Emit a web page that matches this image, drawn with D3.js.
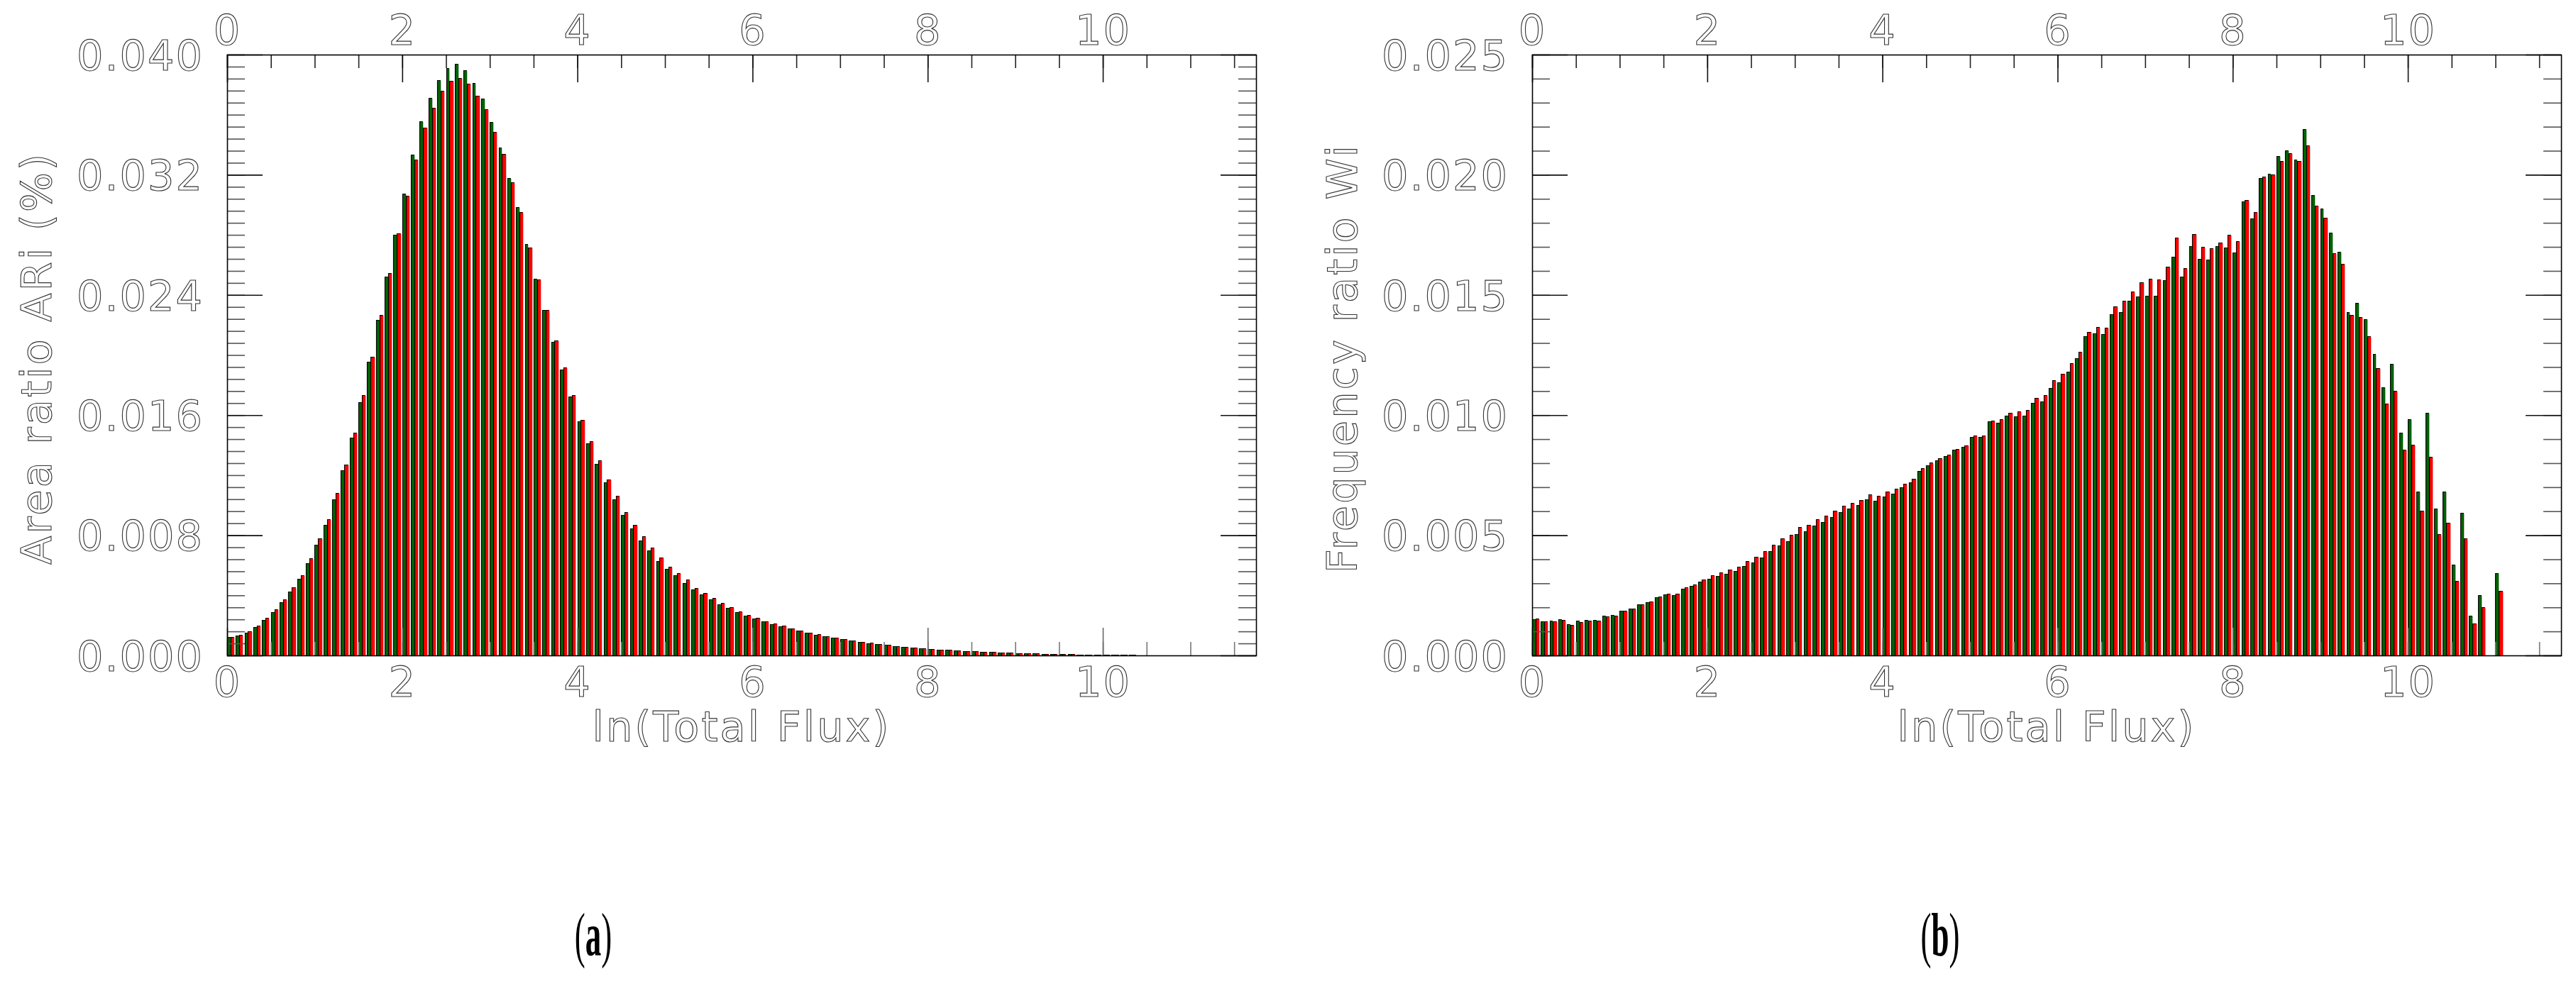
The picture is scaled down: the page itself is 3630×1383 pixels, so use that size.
<!DOCTYPE html>
<html>
<head>
<meta charset="utf-8">
<script src="https://cdn.jsdelivr.net/npm/d3@7"></script>
<style>
  html, body { margin: 0; padding: 0; background: #fff; }
  svg { display: block; }
</style>
</head>
<body>
<div id="vis"></div>
<script>

/* Data */
/* ---- */

var binWidth = 0.1; // ln(Total Flux) bin, bins start at 0

// (a) area ratio ARi, one value per bin
var areaGreen = [
  0.00124, 0.00130, 0.00153, 0.00189, 0.00236, 0.00288, 0.00355, 0.00427, 0.00510, 0.00613,
  0.00735, 0.00870, 0.01039, 0.01231, 0.01451, 0.01687, 0.01956, 0.02236, 0.02523, 0.02801,
  0.03075, 0.03334, 0.03557, 0.03712, 0.03832, 0.03912, 0.03938, 0.03896, 0.03811, 0.03707,
  0.03549, 0.03381, 0.03179, 0.02984, 0.02741, 0.02508, 0.02301, 0.02088, 0.01904, 0.01723,
  0.01560, 0.01412, 0.01277, 0.01153, 0.01039, 0.00935, 0.00845, 0.00766, 0.00699, 0.00630,
  0.00575, 0.00533, 0.00483, 0.00437, 0.00407, 0.00374, 0.00341, 0.00315, 0.00288, 0.00265,
  0.00245, 0.00226, 0.00208, 0.00193, 0.00178, 0.00164, 0.00150, 0.00138, 0.00127, 0.00117,
  0.00107, 0.00098, 0.00090, 0.00082, 0.00075, 0.00069, 0.00063, 0.00057, 0.00052, 0.00048,
  0.00043, 0.00040, 0.00036, 0.00033, 0.00030, 0.00027, 0.00024, 0.00022, 0.00020, 0.00018,
  0.00016, 0.00014, 0.00013, 0.00011, 0.00010, 0.00009, 0.00008, 0.00007, 0.00006, 0.00005,
  0.00005, 0.00004, 0.00003, 0.00003, 0.00002, 0.00002
];
var areaRed = [
  0.00124, 0.00135, 0.00159, 0.00198, 0.00252, 0.00308, 0.00371, 0.00452, 0.00535, 0.00645,
  0.00777, 0.00907, 0.01080, 0.01269, 0.01484, 0.01733, 0.01990, 0.02267, 0.02547, 0.02811,
  0.03060, 0.03303, 0.03513, 0.03648, 0.03759, 0.03824, 0.03845, 0.03808, 0.03728, 0.03635,
  0.03487, 0.03337, 0.03148, 0.02951, 0.02715, 0.02503, 0.02298, 0.02096, 0.01917, 0.01733,
  0.01570, 0.01427, 0.01298, 0.01171, 0.01062, 0.00953, 0.00868, 0.00792, 0.00720, 0.00653,
  0.00588, 0.00549, 0.00503, 0.00447, 0.00414, 0.00381, 0.00348, 0.00319, 0.00291, 0.00268,
  0.00248, 0.00229, 0.00212, 0.00196, 0.00181, 0.00166, 0.00153, 0.00141, 0.00129, 0.00118,
  0.00108, 0.00099, 0.00091, 0.00083, 0.00076, 0.00070, 0.00063, 0.00058, 0.00053, 0.00048,
  0.00044, 0.00040, 0.00036, 0.00033, 0.00030, 0.00027, 0.00025, 0.00022, 0.00020, 0.00018,
  0.00016, 0.00014, 0.00013, 0.00011, 0.00010, 0.00009, 0.00008, 0.00007, 0.00006, 0.00005,
  0.00005, 0.00004, 0.00003, 0.00003, 0.00002, 0.00002
];

// (b) frequency ratio Wi, one value per bin
var freqGreen = [
  0.00150, 0.00143, 0.00144, 0.00152, 0.00129, 0.00144, 0.00147, 0.00147, 0.00166, 0.00167,
  0.00185, 0.00194, 0.00212, 0.00222, 0.00242, 0.00253, 0.00251, 0.00277, 0.00289, 0.00306,
  0.00320, 0.00330, 0.00340, 0.00351, 0.00372, 0.00386, 0.00407, 0.00433, 0.00457, 0.00475,
  0.00504, 0.00516, 0.00540, 0.00556, 0.00575, 0.00597, 0.00612, 0.00626, 0.00650, 0.00644,
  0.00662, 0.00674, 0.00700, 0.00719, 0.00767, 0.00792, 0.00811, 0.00828, 0.00855, 0.00867,
  0.00908, 0.00910, 0.00975, 0.00969, 0.00998, 0.00996, 0.00999, 0.01051, 0.01057, 0.01112,
  0.01136, 0.01180, 0.01238, 0.01327, 0.01341, 0.01338, 0.01421, 0.01428, 0.01475, 0.01493,
  0.01497, 0.01496, 0.01561, 0.01658, 0.01575, 0.01703, 0.01650, 0.01647, 0.01703, 0.01697,
  0.01677, 0.01889, 0.01817, 0.01985, 0.02005, 0.02079, 0.02102, 0.02064, 0.02189, 0.01915,
  0.01860, 0.01759, 0.01679, 0.01430, 0.01467, 0.01399, 0.01253, 0.01116, 0.01214, 0.00926,
  0.00984, 0.00682, 0.01008, 0.00610, 0.00683, 0.00378, 0.00594, 0.00166, 0.00250, 0.00000,
  0.00343
];
var freqRed = [
  0.00153, 0.00141, 0.00141, 0.00148, 0.00126, 0.00140, 0.00145, 0.00144, 0.00162, 0.00165,
  0.00185, 0.00194, 0.00212, 0.00224, 0.00246, 0.00258, 0.00256, 0.00283, 0.00296, 0.00316,
  0.00333, 0.00344, 0.00356, 0.00370, 0.00394, 0.00411, 0.00433, 0.00460, 0.00486, 0.00502,
  0.00533, 0.00543, 0.00567, 0.00582, 0.00602, 0.00624, 0.00635, 0.00645, 0.00669, 0.00663,
  0.00681, 0.00694, 0.00715, 0.00735, 0.00780, 0.00803, 0.00822, 0.00834, 0.00859, 0.00874,
  0.00915, 0.00916, 0.00978, 0.00982, 0.01010, 0.01014, 0.01022, 0.01070, 0.01083, 0.01144,
  0.01171, 0.01215, 0.01264, 0.01346, 0.01367, 0.01364, 0.01452, 0.01475, 0.01514, 0.01554,
  0.01566, 0.01565, 0.01618, 0.01738, 0.01611, 0.01752, 0.01699, 0.01693, 0.01719, 0.01750,
  0.01723, 0.01894, 0.01844, 0.01991, 0.02001, 0.02057, 0.02090, 0.02056, 0.02123, 0.01870,
  0.01820, 0.01673, 0.01630, 0.01418, 0.01408, 0.01327, 0.01196, 0.01049, 0.01101, 0.00857,
  0.00876, 0.00603, 0.00825, 0.00506, 0.00553, 0.00311, 0.00486, 0.00132, 0.00202, 0.00000,
  0.00268
];

var xDomain = [0, 11.75];
var xTickValues = [0, 2, 4, 6, 8, 10];
var areaTickValues = [0.000, 0.008, 0.016, 0.024, 0.032, 0.040];
var freqTickValues = [0.000, 0.005, 0.010, 0.015, 0.020, 0.025];


/* Globals */
/* ------- */

var vis = {};
vis.dims = { width: 3630, height: 1383 };
vis.colour = { green: '#006400', red: '#ff0000', outline: '#000' };
vis.font = { family: "'DejaVu Sans', sans-serif", size: 59 };

vis.panels = [
  { id: 'a', left: 320, right: 1770, top: 77, bottom: 924,
    yMax: 0.040, yMinor: 0.0008, ticks: areaTickValues,
    green: areaGreen, red: areaRed,
    title: 'Area ratio ARi (%)', titleX: 72, tag: '(a)', tagX: 836 },
  { id: 'b', left: 2159, right: 3609, top: 77, bottom: 924,
    yMax: 0.025, yMinor: 0.001, ticks: freqTickValues,
    green: freqGreen, red: freqRed,
    title: 'Frequency ratio Wi', titleX: 1912, tag: '(b)', tagX: 2734 }
];


/* Helpers */
/* ------- */

function outlineText(sel, spacing) {

  sel.attr('font-family', vis.font.family)
    .attr('font-size', vis.font.size)
    .attr('fill', '#fff')
    .attr('stroke', '#333')
    .attr('stroke-width', 1.1)
    .attr('letter-spacing', spacing || 2);

} // outlineText()

function styleTicks(g, colour) {

  g.select('.domain').remove();
  g.selectAll('.tick line').attr('stroke', colour).attr('stroke-width', 1.6);

} // styleTicks()


/* General */
/* ------- */

function setupVisual() {

  vis.svg = d3.select('#vis')
    .append('svg')
      .attr('width', vis.dims.width)
      .attr('height', vis.dims.height)
      .attr('viewBox', '0 0 ' + vis.dims.width + ' ' + vis.dims.height);

  vis.svg.append('rect')
    .attr('width', vis.dims.width)
    .attr('height', vis.dims.height)
    .attr('fill', '#fff');

} // setupVisual()

function drawBars(g, p, x, y) {

  var bins = p.green.map(function(v, i) { return { start: i * binWidth, green: v, red: p.red[i] }; });

  // each bin: green bar, then red bar, then a small gap
  var parts = [];
  bins.forEach(function(b) {
    var x0 = Math.round(x(b.start)),
        x1 = Math.round(x(b.start + binWidth * 0.39)),
        x2 = Math.round(x(b.start + binWidth * 0.82));
    if (b.green > 0) parts.push({ x0: x0, x1: x1, v: b.green, fill: vis.colour.green });
    if (b.red > 0) parts.push({ x0: x1, x1: x2, v: b.red, fill: vis.colour.red });
  });

  var bars = g.append('g').attr('class', 'bars')
    .selectAll('g')
    .data(parts)
    .enter().append('g');

  bars.append('rect')
    .attr('x', function(d) { return d.x0; })
    .attr('y', function(d) { return Math.round(y(d.v)); })
    .attr('width', function(d) { return d.x1 - d.x0; })
    .attr('height', function(d) { return p.bottom - Math.round(y(d.v)); })
    .attr('fill', function(d) { return d.fill; });

  // black edge on the left and top of every bar
  bars.append('path')
    .attr('d', function(d) {
      var top = Math.round(y(d.v)) + 0.5;
      return 'M' + (d.x0 + 0.5) + ',' + p.bottom + 'V' + top + 'H' + (d.x1 - 0.5);
    })
    .attr('fill', 'none')
    .attr('stroke', vis.colour.outline)
    .attr('stroke-width', 1.2);

  // faint grey shadow on the right edge
  bars.append('line')
    .attr('x1', function(d) { return d.x1 + 0.5; })
    .attr('x2', function(d) { return d.x1 + 0.5; })
    .attr('y1', function(d) { return Math.round(y(d.v)) + 1; })
    .attr('y2', p.bottom)
    .attr('stroke', '#bbb')
    .attr('stroke-width', 0.8);

} // drawBars()

function drawAxes(g, p, x, y) {

  var xMinor = d3.range(0, xDomain[1], 0.5);
  var yMinor = d3.range(0, p.yMax + p.yMinor / 2, p.yMinor);

  // bottom
  g.append('g').attr('transform', 'translate(0,' + p.bottom + ')')
    .call(d3.axisBottom(x).tickValues(xMinor).tickSize(-19).tickSizeOuter(0).tickFormat(''))
    .call(styleTicks, '#777');
  var bottom = g.append('g').attr('transform', 'translate(0,' + p.bottom + ')')
    .call(d3.axisBottom(x).tickValues(xTickValues).tickSize(-39).tickSizeOuter(0).tickPadding(16).tickFormat(d3.format('d')))
    .call(styleTicks, '#666');
  bottom.selectAll('text').call(outlineText);

  // top
  g.append('g').attr('transform', 'translate(0,' + p.top + ')')
    .call(d3.axisTop(x).tickValues(xMinor).tickSize(-19).tickSizeOuter(0).tickFormat(''))
    .call(styleTicks, '#222');
  var top = g.append('g').attr('transform', 'translate(0,' + p.top + ')')
    .call(d3.axisTop(x).tickValues(xTickValues).tickSize(-39).tickSizeOuter(0).tickPadding(14).tickFormat(d3.format('d')))
    .call(styleTicks, '#111');
  top.selectAll('text').call(outlineText);

  // left
  g.append('g').attr('transform', 'translate(' + p.left + ',0)')
    .call(d3.axisLeft(y).tickValues(yMinor).tickSize(-25).tickSizeOuter(0).tickFormat(''))
    .call(styleTicks, '#555');
  var left = g.append('g').attr('transform', 'translate(' + p.left + ',0)')
    .call(d3.axisLeft(y).tickValues(p.ticks).tickSize(-50).tickSizeOuter(0).tickPadding(33).tickFormat(d3.format('.3f')))
    .call(styleTicks, '#111');
  left.selectAll('text').call(outlineText).attr('dy', '0.36em');

  // right, no labels
  g.append('g').attr('transform', 'translate(' + p.right + ',0)')
    .call(d3.axisRight(y).tickValues(yMinor).tickSize(-25).tickSizeOuter(0).tickFormat(''))
    .call(styleTicks, '#555');
  g.append('g').attr('transform', 'translate(' + p.right + ',0)')
    .call(d3.axisRight(y).tickValues(p.ticks).tickSize(-50).tickSizeOuter(0).tickFormat(''))
    .call(styleTicks, '#111');

  // frame
  g.append('rect')
    .attr('x', p.left + 0.5)
    .attr('y', p.top + 0.5)
    .attr('width', p.right - p.left)
    .attr('height', p.bottom - p.top)
    .attr('fill', 'none')
    .attr('stroke', '#000')
    .attr('stroke-width', 1.6);

} // drawAxes()

function drawTitles(g, p) {

  g.append('text')
    .attr('x', (p.left + p.right) / 2)
    .attr('y', 1045)
    .attr('text-anchor', 'middle')
    .text('ln(Total Flux)')
    .call(outlineText, 3);

  g.append('text')
    .attr('transform', 'translate(' + p.titleX + ',505) rotate(-90)')
    .attr('text-anchor', 'middle')
    .text(p.title)
    .call(outlineText, 3);

  // panel tag: regular parentheses round a bold letter
  var tag = g.append('text')
    .attr('transform', 'translate(' + p.tagX + ',1347) scale(0.9,1.75)')
    .attr('text-anchor', 'middle')
    .attr('font-family', "'Liberation Serif', 'Times New Roman', serif")
    .attr('font-size', 50)
    .attr('fill', '#000');
  tag.append('tspan').text(p.tag.charAt(0));
  tag.append('tspan').attr('font-weight', 'bold').text(p.tag.charAt(1));
  tag.append('tspan').text(p.tag.charAt(2));

} // drawTitles()

function drawPanel(p) {

  var x = d3.scaleLinear().domain(xDomain).range([p.left, p.right]);
  var y = d3.scaleLinear().domain([0, p.yMax]).range([p.bottom, p.top]);

  var g = vis.svg.append('g').attr('class', 'panel panel-' + p.id);

  drawBars(g, p, x, y);
  drawAxes(g, p, x, y);
  drawTitles(g, p);

} // drawPanel()


setupVisual();
vis.panels.forEach(drawPanel);

</script>
</body>
</html>
